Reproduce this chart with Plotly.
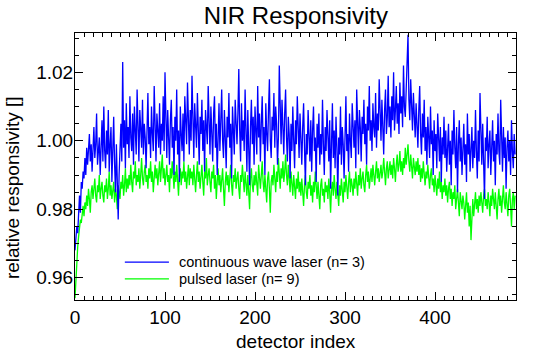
import plotly.graph_objects as go

title_text = "NIR Responsivity"
x_label = "detector index"
y_label = "relative responsivity []"
cw_name = "continuous wave laser (n= 3)"
pulsed_name = "pulsed laser (n= 9)"

cw_values = [
    0.968, 0.971, 0.975, 0.973, 0.980, 0.984, 0.979, 0.988, 0.986, 0.991,
    0.989, 0.995, 0.990, 0.998, 0.993, 0.997, 1.002, 0.994, 0.999, 0.991,
    0.996, 1.004, 0.995, 0.999, 1.008, 0.993, 0.997, 1.001, 0.990, 0.998,
    1.006, 0.994, 1.010, 0.997, 0.992, 1.003, 0.996, 1.009, 0.991, 0.999,
    1.004, 0.988, 0.996, 1.007, 0.993, 0.985, 0.999, 0.982, 0.977, 0.990,
    0.996, 1.005, 0.994, 1.023, 0.998, 1.006, 0.992, 1.011, 0.999, 1.004,
    0.995, 1.013, 1.001, 0.997, 1.008, 0.993, 1.010, 1.002, 0.996, 1.015,
    1.000, 0.994, 1.009, 1.003, 0.998, 1.012, 0.996, 1.005, 1.001, 0.992,
    1.007, 1.014, 0.999, 1.004, 0.995, 1.010, 1.002, 0.997, 1.016, 1.001,
    0.994, 1.008, 1.003, 0.998, 1.011, 0.996, 1.005, 1.000, 1.013, 0.997,
    1.020, 1.003, 0.995, 1.009, 1.001, 0.993, 1.006, 1.012, 0.998, 1.004,
    0.990, 1.007, 1.000, 1.015, 0.996, 1.003, 0.988, 1.010, 1.002, 0.997,
    1.008, 0.994, 1.013, 1.001, 0.999, 1.017, 1.004, 0.996, 1.009, 1.000,
    1.019, 1.003, 0.995, 1.011, 1.005, 0.998, 1.014, 1.001, 0.993, 1.007,
    1.002, 1.012, 0.997, 1.006, 0.991, 1.009, 1.003, 0.999, 1.016, 1.004,
    0.996, 1.010, 1.001, 0.994, 1.008, 1.013, 0.998, 1.005, 0.990, 1.002,
    1.011, 0.997, 1.006, 1.015, 1.000, 0.995, 1.009, 1.003, 0.992, 1.007,
    1.001, 1.014, 0.998, 1.005, 0.989, 1.010, 1.002, 0.996, 1.012, 1.004,
    0.999, 1.008, 1.021, 1.003, 0.994, 1.011, 1.000, 1.006, 0.997, 1.015,
    1.002, 0.991, 1.009, 0.998, 0.987, 1.004, 1.012, 0.999, 1.007, 0.993,
    1.010, 1.003, 0.996, 1.016, 1.001, 1.008, 0.994, 1.005, 1.013, 0.999,
    1.004, 0.990, 1.011, 1.002, 0.997, 1.009, 1.018, 1.000, 0.995, 1.007,
    1.003, 1.014, 0.998, 1.010, 1.005, 0.993, 1.001, 1.022, 1.006, 0.999,
    1.012, 1.003, 0.996, 1.008, 1.015, 1.001, 0.994, 1.007, 1.002, 0.989,
    1.005, 0.997, 1.010, 1.000, 0.992, 1.006, 0.999, 1.013, 1.003, 0.995,
    1.008, 1.001, 0.993, 1.004, 1.011, 0.998, 0.987, 1.002, 0.996, 1.009,
    1.000, 0.994, 1.006, 0.991, 1.003, 1.010, 0.997, 1.001, 0.988, 1.005,
    0.998, 1.008, 0.993, 1.002, 0.996, 1.012, 0.999, 0.990, 1.004, 0.997,
    1.009, 1.001, 0.994, 1.006, 0.986, 0.999, 1.011, 0.995, 1.003, 0.992,
    1.007, 0.998, 0.984, 1.001, 0.996, 1.010, 0.993, 1.004, 0.999, 0.989,
    1.005, 1.013, 0.997, 1.002, 0.991, 1.008, 1.000, 0.995, 1.011, 1.003,
    0.998, 1.006, 0.992, 1.015, 1.001, 0.996, 1.009, 1.004, 0.994, 1.007,
    1.002, 1.012, 0.999, 1.005, 0.993, 1.010, 1.003, 1.016, 1.000, 1.006,
    0.997, 1.011, 1.004, 1.001, 1.014, 0.998, 1.008, 1.003, 1.018, 1.005,
    1.000, 1.012, 1.006, 0.996, 1.009, 1.015, 1.002, 1.007, 1.019, 1.004,
    1.010, 1.001, 1.013, 1.006, 1.020, 1.003, 1.009, 1.016, 1.005, 1.011,
    1.002, 1.017, 1.008, 1.013, 1.004, 1.022, 1.010, 1.007, 1.015, 1.026,
    1.031, 1.012, 1.006, 1.018, 1.009, 1.003, 1.014, 1.007, 1.001, 1.011,
    1.005, 0.998, 1.009, 1.016, 1.002, 0.996, 1.008, 1.001, 1.012, 0.997,
    1.004, 0.993, 1.007, 1.000, 0.995, 1.010, 0.999, 1.003, 0.990, 1.006,
    0.997, 1.002, 0.992, 1.008, 0.999, 0.994, 1.004, 0.988, 1.001, 0.996,
    1.007, 0.995, 1.003, 0.991, 0.998, 1.005, 0.993, 1.000, 0.987, 1.003,
    0.996, 1.009, 0.998, 0.992, 1.004, 0.985, 0.999, 1.006, 0.994, 1.001,
    0.990, 0.997, 1.005, 0.993, 0.999, 0.988, 1.008, 0.996, 1.002, 0.991,
    0.998, 1.004, 0.992, 1.000, 0.995, 1.009, 0.997, 0.989, 1.003, 0.994,
    1.014, 0.999, 0.993, 1.005, 0.996, 0.983, 1.001, 0.997, 1.007, 0.992,
    0.999, 1.003, 0.990, 0.998, 1.006, 0.994, 1.000, 0.987, 1.002, 0.996,
    1.008, 0.997, 0.993, 1.012, 0.999, 0.991, 1.004, 0.995, 1.001, 0.986,
    0.998, 1.003, 0.994, 1.000, 0.990, 1.006, 0.997, 0.992, 1.002, 0.996,
]

pulsed_values = [
    0.954, 0.960, 0.965, 0.969, 0.972, 0.975, 0.977, 0.976, 0.979, 0.981,
    0.978, 0.982, 0.980, 0.984, 0.981, 0.986, 0.983, 0.979, 0.985, 0.987,
    0.983, 0.986, 0.989, 0.984, 0.982, 0.987, 0.985, 0.990, 0.983, 0.986,
    0.988, 0.984, 0.982, 0.987, 0.985, 0.989, 0.983, 0.986, 0.991, 0.984,
    0.987, 0.983, 0.985, 0.988, 0.982, 0.986, 0.984, 0.980, 0.987, 0.985,
    0.983, 0.988, 0.986, 0.990, 0.984, 0.987, 0.992, 0.985, 0.989, 0.986,
    0.990, 0.987, 0.993, 0.988, 0.985, 0.991, 0.989, 0.994, 0.987, 0.990,
    0.988, 0.992, 0.986, 0.990, 0.995, 0.989, 0.987, 0.991, 0.993, 0.988,
    0.990, 0.986, 0.992, 0.989, 0.994, 0.988, 0.991, 0.985, 0.990, 0.993,
    0.989, 0.992, 0.987, 0.990, 0.994, 0.988, 0.991, 0.996, 0.989, 0.992,
    0.987, 0.991, 0.993, 0.988, 0.990, 0.985, 0.992, 0.989, 0.994, 0.990,
    0.986, 0.991, 0.988, 0.993, 0.989, 0.984, 0.990, 0.992, 0.987, 0.991,
    0.989, 0.994, 0.988, 0.991, 0.986, 0.990, 0.993, 0.987, 0.992, 0.989,
    0.991, 0.987, 0.993, 0.989, 0.985, 0.990, 0.994, 0.988, 0.991, 0.986,
    0.990, 0.993, 0.988, 0.984, 0.991, 0.989, 0.995, 0.987, 0.990, 0.992,
    0.988, 0.985, 0.991, 0.989, 0.993, 0.986, 0.990, 0.983, 0.988, 0.992,
    0.987, 0.990, 0.985, 0.989, 0.992, 0.986, 0.981, 0.988, 0.991, 0.987,
    0.990, 0.985, 0.989, 0.993, 0.987, 0.984, 0.990, 0.988, 0.992, 0.986,
    0.989, 0.991, 0.986, 0.983, 0.990, 0.988, 0.993, 0.987, 0.985, 0.991,
    0.988, 0.984, 0.990, 0.986, 0.980, 0.989, 0.992, 0.987, 0.985, 0.990,
    0.987, 0.991, 0.988, 0.984, 0.993, 0.989, 0.986, 0.990, 0.994, 0.988,
    0.985, 0.990, 0.987, 0.982, 0.989, 0.991, 0.986, 0.979, 0.988, 0.990,
    0.987, 0.993, 0.989, 0.985, 0.991, 0.988, 0.995, 0.990, 0.986, 0.992,
    0.989, 0.994, 0.988, 0.991, 0.996, 0.990, 0.987, 0.993, 0.989, 0.985,
    0.991, 0.988, 0.984, 0.990, 0.987, 0.983, 0.989, 0.986, 0.991, 0.985,
    0.988, 0.984, 0.989, 0.986, 0.981, 0.987, 0.990, 0.985, 0.983, 0.988,
    0.986, 0.990, 0.984, 0.987, 0.982, 0.988, 0.985, 0.991, 0.986, 0.983,
    0.988, 0.985, 0.980, 0.987, 0.989, 0.984, 0.986, 0.982, 0.988, 0.985,
    0.987, 0.983, 0.989, 0.985, 0.979, 0.986, 0.988, 0.984, 0.990, 0.986,
    0.983, 0.988, 0.985, 0.981, 0.987, 0.984, 0.989, 0.986, 0.982, 0.988,
    0.985, 0.990, 0.986, 0.983, 0.988, 0.991, 0.985, 0.989, 0.987, 0.984,
    0.989, 0.986, 0.991, 0.988, 0.984, 0.990, 0.987, 0.992, 0.986, 0.989,
    0.991, 0.987, 0.985, 0.990, 0.993, 0.988, 0.991, 0.986, 0.989, 0.992,
    0.988, 0.993, 0.990, 0.987, 0.991, 0.994, 0.989, 0.992, 0.988, 0.990,
    0.993, 0.989, 0.991, 0.995, 0.990, 0.987, 0.992, 0.994, 0.989, 0.991,
    0.994, 0.990, 0.993, 0.989, 0.995, 0.992, 0.988, 0.993, 0.996, 0.991,
    0.993, 0.997, 0.991, 0.994, 0.990, 0.995, 0.992, 0.998, 0.993, 0.996,
    0.999, 0.994, 0.991, 0.996, 0.993, 0.989, 0.995, 0.992, 0.990, 0.994,
    0.991, 0.995, 0.990, 0.993, 0.988, 0.992, 0.989, 0.994, 0.990, 0.987,
    0.991, 0.989, 0.993, 0.988, 0.986, 0.990, 0.992, 0.987, 0.989, 0.985,
    0.990, 0.987, 0.984, 0.989, 0.986, 0.991, 0.985, 0.988, 0.983, 0.987,
    0.985, 0.989, 0.984, 0.987, 0.982, 0.986, 0.988, 0.983, 0.986, 0.981,
    0.985, 0.983, 0.987, 0.980, 0.984, 0.986, 0.982, 0.978, 0.985, 0.983,
    0.980, 0.984, 0.982, 0.977, 0.983, 0.985, 0.979, 0.982, 0.975, 0.981,
    0.971, 0.980, 0.983, 0.978, 0.982, 0.985, 0.980, 0.983, 0.979, 0.984,
    0.981, 0.985, 0.982, 0.979, 0.984, 0.986, 0.981, 0.983, 0.980, 0.985,
    0.982, 0.978, 0.984, 0.981, 0.986, 0.983, 0.980, 0.985, 0.982, 0.977,
    0.983, 0.986, 0.981, 0.984, 0.979, 0.983, 0.987, 0.982, 0.980, 0.985,
    0.982, 0.978, 0.984, 0.986, 0.981, 0.975, 0.983, 0.985, 0.980, 0.984,
]

detector_index = list(range(len(cw_values)))

FONT = "Liberation Sans, Arial, Helvetica, sans-serif"
BLUE = "rgb(0,0,255)"
GREEN = "rgb(0,255,0)"

fig = go.Figure()
fig.add_trace(go.Scatter(
    x=detector_index, y=pulsed_values, mode="lines", name=pulsed_name,
    line=dict(color=GREEN, width=1.3), showlegend=False,
))
fig.add_trace(go.Scatter(
    x=detector_index, y=cw_values, mode="lines", name=cw_name,
    line=dict(color=BLUE, width=1.3), showlegend=False,
))

axis_common = dict(
    showgrid=False, zeroline=False, showline=True, linecolor="black",
    linewidth=1, mirror="ticks", ticks="inside", tickcolor="black",
    tickfont=dict(family=FONT, size=19, color="black"),
)

fig.update_xaxes(
    range=[0, 490], dtick=100, tick0=0, ticklen=8, tickwidth=1,
    minor=dict(dtick=10, ticklen=4, ticks="inside", tickcolor="black"),
    **axis_common,
)
fig.update_yaxes(
    range=[0.9535, 1.0315], dtick=0.02, tick0=0.96, tickformat=".2f",
    ticklen=8, tickwidth=1, ticklabelstandoff=-3,
    minor=dict(dtick=0.005, ticklen=4, ticks="inside", tickcolor="black"),
    **axis_common,
)

# legend drawn inside the plot (line samples + labels), as in the reference
legend_entries = [(cw_name, BLUE, 0.142), (pulsed_name, GREEN, 0.079)]
shapes = []
annotations = []
for label, color, ypos in legend_entries:
    shapes.append(dict(type="line", xref="x domain", yref="y domain",
                       x0=0.113, x1=0.213, y0=ypos, y1=ypos,
                       line=dict(color=color, width=1.3)))
    annotations.append(dict(text=label, xref="x domain", yref="y domain",
                            x=0.232, y=ypos, xanchor="left", yanchor="middle",
                            showarrow=False,
                            font=dict(family=FONT, size=14.5, color="black")))

annotations += [
    dict(text=x_label, xref="paper", yref="paper", x=0.5, y=-0.155,
         xanchor="center", yanchor="middle", showarrow=False,
         font=dict(family=FONT, size=19, color="black")),
    dict(text=y_label, xref="paper", yref="paper", x=-0.14, y=0.42,
         xanchor="center", yanchor="middle", showarrow=False, textangle=-90,
         font=dict(family=FONT, size=19, color="black")),
]

fig.update_layout(
    width=550, height=353,
    margin=dict(l=75, r=34, t=33, b=53),
    paper_bgcolor="white", plot_bgcolor="white",
    font=dict(family=FONT, color="black"),
    title=dict(text=title_text, x=0.538, xanchor="center", y=0.957,
               yanchor="middle", font=dict(family=FONT, size=24, color="black")),
    showlegend=False,
    shapes=shapes,
    annotations=annotations,
)

# remove the browser's default 8px body margin so the figure fills the window
fig.write_html("out.html", config={"displayModeBar": False},
               post_script="document.body.style.margin='0';")
